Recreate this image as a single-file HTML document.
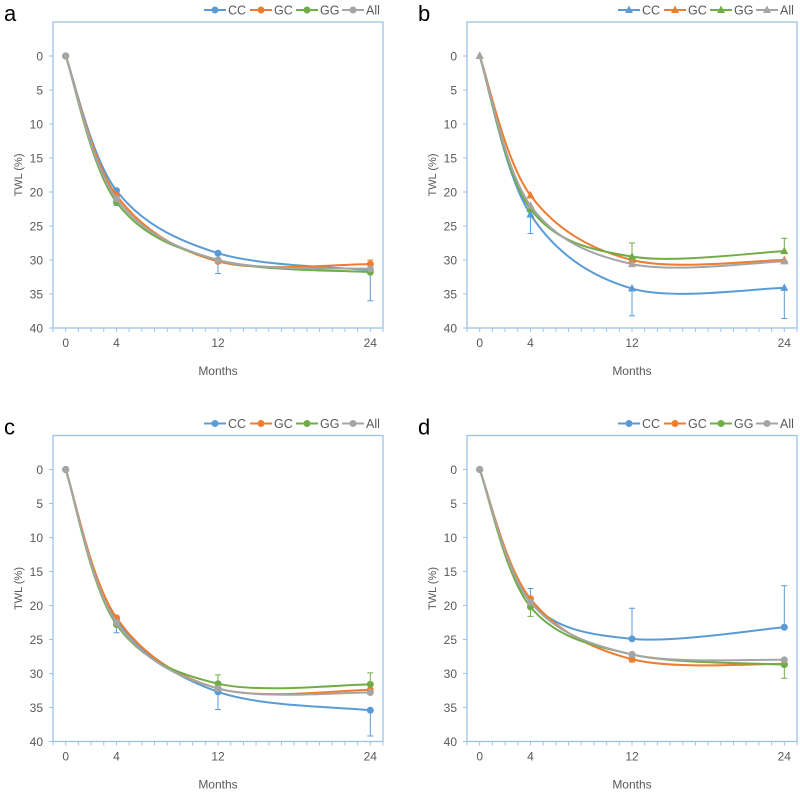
<!DOCTYPE html>
<html><head><meta charset="utf-8"><style>
body{margin:0;background:#fff;width:800px;height:792px;overflow:hidden}
svg{font-family:"Liberation Sans",sans-serif}
</style></head><body>
<svg id="chart" width="800" height="792"></svg>
<script>
const months=[0,4,12,24];
const seriesNames=["CC","GC","GG","All"];
const colors=["#5b9bd5","#ed7d31","#70ad47","#a5a5a5"];
const yTicks=[0,5,10,15,20,25,30,35,40];
const xTickLabels=[0,4,12,24];
const panelLabels=["a","b","c","d"];
const aCC=[0,19.8,29,31.5], aGC=[0,20.5,30.2,30.6], aGG=[0,21.5,30,31.8], aAll=[0,21,30,31.3];
const bCC=[0,23.3,34.2,34.1], bGC=[0,20.5,30,30], bGG=[0,22.5,29.5,28.7], bAll=[0,22,30.6,30.2];
const cCC=[0,22,32.7,35.4], cGC=[0,21.8,32.2,32.4], cGG=[0,22.8,31.5,31.6], cAll=[0,22.5,32.2,32.8];
const dCC=[0,19.5,24.9,23.2], dGC=[0,19,27.9,28.6], dGG=[0,20.2,27.2,28.7], dAll=[0,19.5,27.2,28];
// error bars: [series index, month index, end value]
const aErr=[[0,2,32],[0,3,36],[1,3,30],[0,1,22]];
const bErr=[[0,1,26.1],[0,2,38.2],[0,3,38.6],[2,2,27.5],[2,3,26.8]];
const cErr=[[0,1,24],[0,2,35.3],[0,3,39.2],[2,2,30.2],[2,3,29.9]];
const dErr=[[0,1,17.5],[0,2,20.4],[0,3,17.1],[2,1,21.6],[2,3,30.7],[1,2,28.3]];
const panels=[[aCC,aGC,aGG,aAll],[bCC,bGC,bGG,bAll],[cCC,cGC,cGG,cAll],[dCC,dGC,dGG,dAll]];
const errs=[aErr,bErr,cErr,dErr];
const NS="http://www.w3.org/2000/svg";
const svg=document.getElementById('chart');
function mk(t,a,p){const e=document.createElementNS(NS,t);for(const k in a)e.setAttribute(k,a[k]);(p||svg).appendChild(e);return e;}
panels.forEach((ser,pi)=>{
  const ox=(pi%2)*414, oy=Math.floor(pi/2)*413.5;
  const L=53+ox,T=22+oy,R=383+ox,B=328+oy;
  const xs=v=>L+(v+1)/26*(R-L);
  const ys=v=>T+(v+5)/45*(B-T);
  const g=mk('g',{});
  
  
  const lab=mk('text',{x:4+ox,y:21+oy,'font-size':22,fill:'#000'},g);lab.textContent=panelLabels[pi];
  
  const fr=mk('rect',{x:L,y:T,width:R-L,height:B-T,fill:'none',stroke:'#9dc3e6','stroke-width':1.3},g);
  
  for(let m=-1;m<=25;m++){mk('line',{x1:xs(m),x2:xs(m),y1:B,y2:B+4,stroke:'#9dc3e6'},g);}
  yTicks.forEach(v=>{mk('line',{x1:L-4,x2:L,y1:ys(v),y2:ys(v),stroke:'#9dc3e6'},g);
    const t=mk('text',{x:L-10,y:ys(v)+4.5,'text-anchor':'end','font-size':12,fill:'#595959'},g);t.textContent=v;
    });
  xTickLabels.forEach(v=>{const t=mk('text',{x:xs(v),y:B+19,'text-anchor':'middle','font-size':12,fill:'#595959'},g);t.textContent=v;
    });
  const xt=mk('text',{x:(L+R)/2,y:B+47,'text-anchor':'middle','font-size':12,fill:'#595959'},g);xt.textContent='Months';
  
  const yt=mk('text',{x:0,y:0,'text-anchor':'middle','font-size':11,fill:'#595959',transform:`translate(${L-31},${(T+B)/2}) rotate(-90)`},g);yt.textContent='TWL (%)';
  
  errs[pi].forEach(([si,mi,end])=>{const x=xs(months[mi]);
    const e=mk('path',{d:`M${x},${ys(ser[si][mi])}V${ys(end)}M${x-3},${ys(end)}H${x+3}`,stroke:colors[si],'stroke-width':1,fill:'none'},g);
    });
  ser.forEach((vals,si)=>{
    const P=months.map((m,i)=>[xs(m),ys(vals[i])]);
    let d=`M${P[0][0]},${P[0][1]}`;
    for(let i=0;i<P.length-1;i++){const p0=P[Math.max(0,i-1)],p1=P[i],p2=P[i+1],p3=P[Math.min(P.length-1,i+2)];
      const c1=[p1[0]+(p2[0]-p0[0])/6,p1[1]+(p2[1]-p0[1])/6],c2=[p2[0]-(p3[0]-p1[0])/6,p2[1]-(p3[1]-p1[1])/6];
      d+=`C${c1[0]},${c1[1]} ${c2[0]},${c2[1]} ${p2[0]},${p2[1]}`;}
    const ln=mk('path',{d,stroke:colors[si],'stroke-width':2,fill:'none'},g);
    
    P.forEach(p=>{let mkr;
      if(pi===1)mkr=mk('path',{d:`M${p[0]},${p[1]-4.5}L${p[0]+4},${p[1]+3}L${p[0]-4},${p[1]+3}Z`,fill:colors[si]},g);
      else mkr=mk('circle',{cx:p[0],cy:p[1],r:3.5,fill:colors[si]},g);
      });
  });
  const lx=[204,250,296,342];
  seriesNames.forEach((n,si)=>{const x=lx[si]+ox,y=10+oy;
    const lg=mk('g',{},g);
    mk('line',{x1:x,x2:x+22,y1:y,y2:y,stroke:colors[si],'stroke-width':2},lg);
    if(pi===1)mk('path',{d:`M${x+11},${y-4.5}L${x+15},${y+3}L${x+7},${y+3}Z`,fill:colors[si]},lg);
    else mk('circle',{cx:x+11,cy:y,r:3.5,fill:colors[si]},lg);
    const t=mk('text',{x:x+24,y:y+4.5,'font-size':12.5,fill:'#595959'},lg);t.textContent=n;});
});
</script>
</body></html>
